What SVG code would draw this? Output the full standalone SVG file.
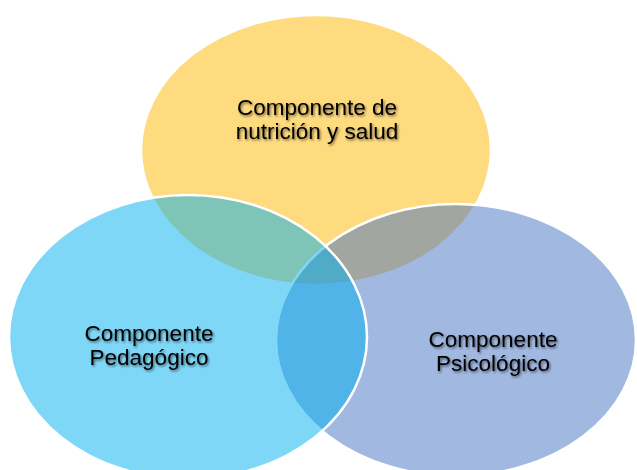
<svg xmlns="http://www.w3.org/2000/svg" width="637" height="470" viewBox="0 0 637 470">
  <defs>
    <filter id="shadow" x="-10%" y="-20%" width="130%" height="150%">
      <feDropShadow dx="1.2" dy="1.5" stdDeviation="1" flood-color="#000" flood-opacity="0.55"/>
    </filter>
  </defs>
  <style>
    .circle { stroke: #ffffff; stroke-width: 2.5; }
    .label { font-family: "Liberation Sans", Arial, sans-serif; font-size: 22.5px; fill: #000000; text-anchor: middle; filter: url(#shadow); }
  </style>
  <rect width="637" height="470" fill="#ffffff"/>
  <g id="nutricion">
    <ellipse class="circle" cx="316" cy="150" rx="175" ry="135" fill="#FFB800" fill-opacity="0.5"/>
  </g>
  <g id="psicologico">
    <ellipse class="circle" cx="456" cy="340" rx="180" ry="136" fill="#4472C4" fill-opacity="0.5"/>
  </g>
  <g id="pedagogico">
    <ellipse class="circle" cx="188" cy="337" rx="179" ry="142" fill="#00B0F0" fill-opacity="0.5"/>
  </g>
  <g id="labels">
    <text class="label" x="317" y="115">Componente de</text>
    <text class="label" x="317" y="139">nutrición y salud</text>
    <text class="label" x="149" y="341">Componente</text>
    <text class="label" x="149" y="365">Pedagógico</text>
    <text class="label" x="493" y="347">Componente</text>
    <text class="label" x="493" y="371">Psicológico</text>
  </g>
</svg>
